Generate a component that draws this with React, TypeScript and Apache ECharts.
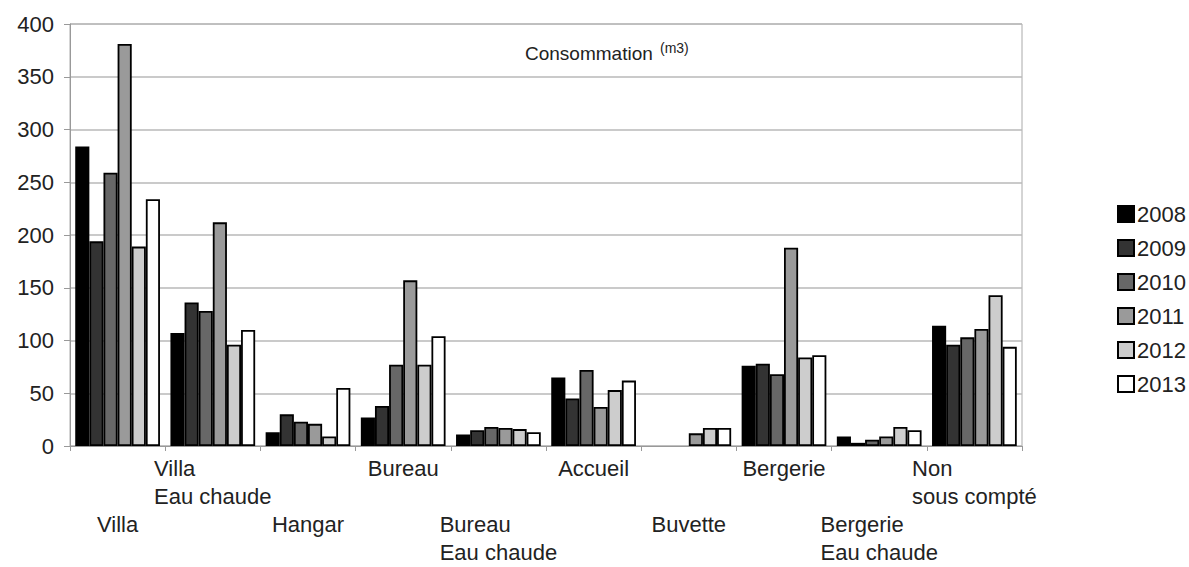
import React, { useEffect, useRef } from "react";
import * as echarts from "echarts";

const categories = [
  "Villa",
  "Villa\nEau chaude",
  "Hangar",
  "Bureau",
  "Bureau\nEau chaude",
  "Accueil",
  "Buvette",
  "Bergerie",
  "Bergerie\nEau chaude",
  "Non\nsous compté",
];
const years = ["2008", "2009", "2010", "2011", "2012", "2013"];
const v2008 = [284, 107, 13, 27, 11, 65, null, 76, 9, 114];
const v2009 = [194, 136, 30, 38, 15, 45, null, 78, 3, 96];
const v2010 = [259, 128, 23, 77, 18, 72, null, 68, 6, 103];
const v2011 = [381, 212, 21, 157, 17, 37, 12, 188, 9, 111];
const v2012 = [189, 96, 9, 77, 16, 53, 17, 84, 18, 143];
const v2013 = [234, 110, 55, 104, 13, 62, 17, 86, 15, 94];
const seriesValues = [v2008, v2009, v2010, v2011, v2012, v2013];
const colors = ["#000000", "#333333", "#676767", "#9a9a9a", "#cdcdcd", "#ffffff"];

const FONT = "'Liberation Sans', Arial, sans-serif";

export default function App() {
  const ref = useRef<HTMLDivElement>(null);
  useEffect(() => {
    if (!ref.current) return;
    const chart = echarts.init(ref.current, undefined, { renderer: "svg" });
    chart.setOption({
      animation: false,
      backgroundColor: "#ffffff",
      textStyle: { fontFamily: FONT },
      grid: {
        left: 70,
        right: 167,
        top: 24,
        bottom: 121,
        show: true,
        borderColor: "#aaaaaa",
        borderWidth: 1,
        containLabel: false,
      },
      legend: {
        orient: "vertical",
        left: 1112,
        top: 198,
        itemWidth: 16,
        itemHeight: 16,
        itemGap: 12,
        icon: "rect",
        data: years,
        textStyle: { fontSize: 22, color: "#222", fontFamily: FONT, padding: [0, 0, 0, -2] },
      },
      graphic: [
        {
          type: "text",
          left: 525,
          top: 44,
          style: { text: "Consommation", fontSize: 19, fill: "#222", fontFamily: FONT },
        },
        {
          type: "text",
          left: 660,
          top: 41,
          style: { text: "(m3)", fontSize: 14, fill: "#222", fontFamily: FONT },
        },
      ],
      xAxis: {
        type: "category",
        data: categories,
        axisLine: { lineStyle: { color: "#999999", width: 1 } },
        axisTick: { show: true, length: 5, lineStyle: { color: "#999999" } },
        axisLabel: {
          interval: 0,
          margin: 8,
          fontSize: 22,
          lineHeight: 28,
          color: "#222",
          fontFamily: FONT,
          formatter: (value: string, index: number) => {
            const lines = value
              .split("\n")
              .map((l) => `{l|${l}}`)
              .join("\n");
            return index % 2 === 0 ? "\n\n" + lines : lines;
          },
          rich: {
            l: { align: "left", fontSize: 22, lineHeight: 28, color: "#222", fontFamily: FONT },
          },
        },
      },
      yAxis: {
        type: "value",
        min: 0,
        max: 400,
        interval: 50,
        axisLine: { show: true, lineStyle: { color: "#999999", width: 1 } },
        axisTick: { show: true, length: 6, lineStyle: { color: "#999999" } },
        axisLabel: { fontSize: 22, color: "#222", margin: 16, fontFamily: FONT },
        splitLine: { lineStyle: { color: "#b8b8b8", width: 1.5 } },
      },
      series: years.map((y, i) => ({
        name: y,
        type: "bar",
        data: seriesValues[i],
        barGap: "0%",
        barCategoryGap: "11%",
        itemStyle: { color: colors[i], borderColor: "#000000", borderWidth: 1.8 },
      })),
    });
    return () => chart.dispose();
  }, []);
  return (
    <div
      ref={ref}
      style={{ position: "fixed", left: 0, top: 0, width: 1189, height: 567 }}
    />
  );
}
